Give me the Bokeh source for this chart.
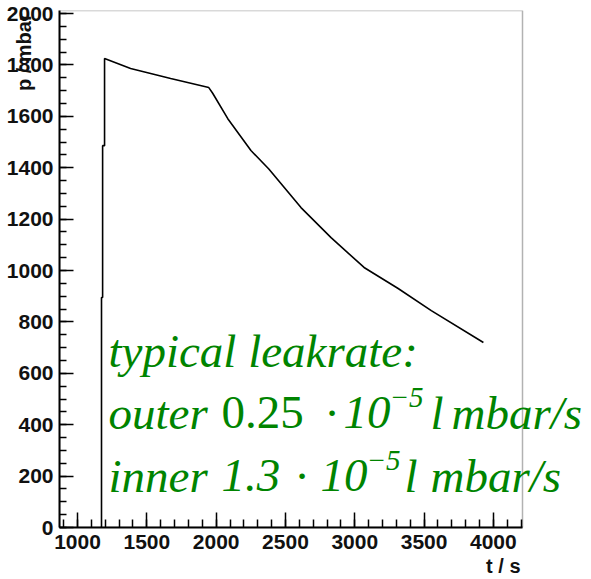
from bokeh.plotting import figure
from bokeh.models import Label, Range1d, SingleIntervalTicker, BoxAnnotation, Title
from bokeh.embed import file_html
from bokeh.resources import INLINE

# ---- data ----
t_s = [1165, 1173, 1173, 1181, 1181, 1195, 1195, 1383, 1672, 1947, 1975, 2084,
       2251, 2380, 2612, 2829, 3067, 3313, 3552, 3928]
p_mbar = [0, 0, 895, 895, 1486, 1486, 1825, 1786, 1747, 1712, 1690, 1591,
          1467, 1395, 1245, 1128, 1012, 930, 844, 720]

x_label = "t / s"
y_label = "p / mbar"
note_title = "typical leakrate:"

# ---- layout geometry ----
W, H = 591, 579
FL, FR, FT, FB = 59, 522, 10, 527
X0, X1, Y0, Y1 = 870, 4210, 0, 2012


def dx(px):
    return X0 + (px - FL) / (FR - FL) * (X1 - X0)


def dy(py):
    return Y0 + (FB - py) / (FB - FT) * (Y1 - Y0)


p = figure(width=W, height=H, output_backend="svg", toolbar_location=None,
           x_range=Range1d(X0, dx(W)), y_range=Range1d(Y0, Y1),
           min_border_left=FL, min_border_right=0,
           min_border_top=FT, min_border_bottom=H - FB)
p.background_fill_color = "white"
p.border_fill_color = "white"
p.outline_line_color = None
p.xgrid.visible = False
p.ygrid.visible = False

p.add_layout(BoxAnnotation(left=X0, right=X1, bottom=Y0, top=Y1,
                           fill_alpha=0, line_color="black", line_width=1.5))

p.xaxis.ticker = SingleIntervalTicker(interval=500, num_minor_ticks=5)
p.yaxis.ticker = SingleIntervalTicker(interval=200, num_minor_ticks=4)
p.xaxis.bounds = (X0, X1)
for ax, maj, mnr, so in ((p.xaxis, 15, 8, 7), (p.yaxis, 14, 7, 6)):
    ax.axis_line_color = "black"
    ax.axis_line_width = 2
    ax.major_tick_in = maj
    ax.major_tick_out = 0
    ax.minor_tick_in = mnr
    ax.minor_tick_out = 0
    ax.major_tick_line_width = 1.5
    ax.minor_tick_line_width = 1.5
    ax.major_tick_line_color = "black"
    ax.minor_tick_line_color = "black"
    ax.major_label_text_font = "Liberation Sans"
    ax.major_label_text_font_style = "bold"
    ax.major_label_text_font_size = "21px"
    ax.major_label_text_color = "#111111"
    ax.major_label_standoff = so

# y title: centred on the top end of the axis, padded so that the words
# themselves end at the top of the frame (as in the reference)
ya = p.yaxis[0]
ya.axis_label = y_label + "\u00a0" * 15
ya.axis_label_standoff = -31
ya.axis_label_text_font = "Liberation Sans"
ya.axis_label_text_font_style = "bold"
ya.axis_label_text_font_size = "20px"
ya.axis_label_text_color = "#111111"
try:
    ya.axis_label_align = "end"
except Exception:
    pass

p.add_layout(Title(text=x_label, align="right", offset=W - 520, standoff=2,
                   text_font="Liberation Sans", text_font_style="bold",
                   text_font_size="20px", text_color="#111111"), "below")

p.line(t_s, p_mbar, line_color="black", line_width=1.6)

GREEN = "#008400"
FS = "47px"
SUP = "29px"


def seg(text, px, py, style="italic", size=FS):
    p.add_layout(Label(x=dx(px), y=dy(py), text=text, text_align="left",
                       text_baseline="alphabetic", text_font="Liberation Serif",
                       text_font_style=style, text_font_size=size,
                       text_color=GREEN))


seg(note_title, 108, 350)
# line 2
seg("outer", 108, 412)
seg("0.25", 221, 412, style="normal")
seg("\u00b7", 325, 412)
seg("10", 343, 412)
seg("\u22125", 389, 397, size=SUP)
seg("l", 430, 412)
seg("mbar/s", 451, 412)
# line 3
seg("inner", 108, 475)
seg("1.3", 221, 475)
seg("\u00b7", 295, 475)
seg("10", 320, 475)
seg("\u22125", 366, 460, size=SUP)
seg("l", 404, 475)
seg("mbar/s", 430, 475)

open("out.html", "w").write(file_html(p, INLINE))
